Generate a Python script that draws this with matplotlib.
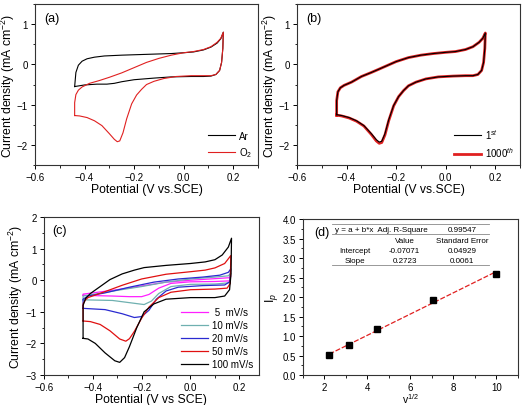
import numpy as np
import matplotlib
matplotlib.use('Agg')
import matplotlib.pyplot as plt
from matplotlib.ticker import AutoMinorLocator

plt.rcParams['font.family'] = ['Liberation Sans', 'DejaVu Sans']
plt.rcParams['mathtext.fontset'] = 'custom'
plt.rcParams['mathtext.rm'] = 'Liberation Sans'
plt.rcParams['mathtext.it'] = 'Liberation Sans:italic'

# --- dados (a): Ar e O2 a 50 mV/s ---
ar_E = [-0.44, -0.435, -0.425, -0.41, -0.39, -0.36, -0.32, -0.25, -0.15, -0.05, 0.0, 0.04, 0.08, 0.11, 0.135, 0.15, 0.16,
        0.158, 0.153, 0.145, 0.13, 0.11, 0.08, 0.03, -0.05, -0.12, -0.2, -0.25, -0.28, -0.31, -0.35, -0.4, -0.44]
ar_j = [-0.55, -0.2, -0.02, 0.08, 0.14, 0.18, 0.21, 0.23, 0.25, 0.27, 0.29, 0.31, 0.36, 0.43, 0.53, 0.64, 0.80,
        0.4, 0.05, -0.15, -0.25, -0.29, -0.3, -0.3, -0.31, -0.34, -0.38, -0.43, -0.47, -0.49, -0.49, -0.51, -0.55]

o2_E = [-0.44, -0.44, -0.435, -0.425, -0.41, -0.38, -0.34, -0.3, -0.25, -0.2, -0.15, -0.1, -0.05, 0.0, 0.04, 0.08,
        0.11, 0.135, 0.15, 0.16,
        0.158, 0.153, 0.145, 0.13, 0.11, 0.08, 0.03, -0.03, -0.08, -0.12, -0.15, -0.17, -0.19, -0.21, -0.23, -0.245,
        -0.258, -0.268, -0.28, -0.3, -0.33, -0.36, -0.39, -0.42, -0.44]
o2_j = [-1.27, -0.95, -0.75, -0.64, -0.56, -0.47, -0.4, -0.32, -0.21, -0.08, 0.05, 0.15, 0.23, 0.29, 0.32, 0.37,
        0.44, 0.55, 0.65, 0.80,
        0.4, 0.05, -0.15, -0.25, -0.28, -0.28, -0.28, -0.3, -0.35, -0.42, -0.5, -0.62, -0.76, -0.98, -1.35, -1.7,
        -1.9, -1.92, -1.86, -1.72, -1.52, -1.4, -1.32, -1.28, -1.27]

# --- dados (b): 1o e 1000o ciclo ---
c1_E = [-0.44, -0.44, -0.435, -0.425, -0.41, -0.38, -0.34, -0.3, -0.27, -0.2, -0.15, -0.1, -0.05, 0.0, 0.04, 0.08,
        0.11, 0.135, 0.15, 0.16,
        0.158, 0.153, 0.145, 0.13, 0.11, 0.08, 0.03, -0.03, -0.08, -0.12, -0.15, -0.17, -0.19, -0.21, -0.23, -0.245,
        -0.258, -0.268, -0.28, -0.3, -0.33, -0.36, -0.39, -0.42, -0.44]
c1_j = [-1.25, -0.9, -0.68, -0.58, -0.52, -0.44, -0.30, -0.2, -0.12, 0.07, 0.17, 0.23, 0.27, 0.3, 0.32, 0.37,
        0.44, 0.55, 0.65, 0.78,
        0.4, 0.05, -0.15, -0.25, -0.28, -0.28, -0.29, -0.31, -0.36, -0.44, -0.53, -0.65, -0.8, -1.02, -1.38, -1.72,
        -1.91, -1.93, -1.87, -1.72, -1.52, -1.4, -1.32, -1.27, -1.25]
c1000_j = [-1.26, -0.9, -0.68, -0.58, -0.52, -0.44, -0.30, -0.2, -0.12, 0.07, 0.17, 0.23, 0.27, 0.3, 0.32, 0.37,
           0.44, 0.55, 0.65, 0.78,
           0.4, 0.05, -0.15, -0.25, -0.28, -0.28, -0.29, -0.31, -0.36, -0.44, -0.53, -0.65, -0.8, -1.03, -1.4, -1.75,
           -1.94, -1.96, -1.9, -1.74, -1.53, -1.41, -1.33, -1.28, -1.26]

# --- dados (c): velocidades de varredura ---
v5_E = [-0.44, -0.44, -0.4, -0.3, -0.2, -0.1, 0.0, 0.1, 0.16, 0.165,
        0.16, 0.1, 0.0, -0.08, -0.13, -0.17, -0.2, -0.25, -0.32, -0.44]
v5_j = [-0.48, -0.44, -0.4, -0.3, -0.18, -0.06, 0.0, 0.05, 0.08, 0.14,
        -0.02, -0.04, -0.05, -0.1, -0.25, -0.45, -0.52, -0.52, -0.5, -0.48]

v10_E = [-0.44, -0.44, -0.4, -0.3, -0.2, -0.1, 0.0, 0.1, 0.155, 0.165,
         0.16, 0.1, 0.0, -0.08, -0.13, -0.16, -0.19, -0.24, -0.32, -0.44]
v10_j = [-0.62, -0.5, -0.45, -0.32, -0.2, -0.06, 0.04, 0.1, 0.14, 0.22,
         -0.08, -0.12, -0.13, -0.2, -0.42, -0.66, -0.77, -0.72, -0.64, -0.62]

v20_E = [-0.44, -0.44, -0.42, -0.35, -0.25, -0.15, -0.05, 0.05, 0.12, 0.155, 0.165,
         0.16, 0.14, 0.05, -0.05, -0.1, -0.14, -0.17, -0.2, -0.23, -0.28, -0.35, -0.44]
v20_j = [-0.89, -0.6, -0.5, -0.4, -0.22, -0.06, 0.04, 0.1, 0.16, 0.25, 0.36,
         -0.05, -0.15, -0.17, -0.22, -0.34, -0.6, -0.95, -1.15, -1.18, -1.06, -0.93, -0.89]

v50_E = [-0.44, -0.44, -0.43, -0.42, -0.35, -0.28, -0.2, -0.1, 0.0, 0.06, 0.1, 0.14, 0.165,
         0.163, 0.15, 0.1, 0.0, -0.08, -0.13, -0.17, -0.2, -0.23, -0.25, -0.265, -0.29, -0.33, -0.37, -0.41, -0.44]
v50_j = [-1.29, -0.75, -0.62, -0.55, -0.36, -0.16, 0.04, 0.19, 0.27, 0.32, 0.39, 0.53, 0.78,
         -0.1, -0.25, -0.28, -0.3, -0.38, -0.55, -0.85, -1.2, -1.62, -1.85, -1.93, -1.86, -1.6, -1.4, -1.31, -1.29]

v100_E = [-0.44, -0.44, -0.43, -0.41, -0.37, -0.33, -0.28, -0.23, -0.19, -0.1, 0.0, 0.06, 0.1, 0.13, 0.155, 0.168,
          0.166, 0.16, 0.14, 0.1, 0.0, -0.1, -0.15, -0.19, -0.22, -0.25, -0.27, -0.29, -0.31, -0.35, -0.39, -0.42,
          -0.44]
v100_j = [-1.84, -0.8, -0.58, -0.42, -0.2, 0.02, 0.2, 0.32, 0.4, 0.47, 0.53, 0.58, 0.65, 0.8, 1.05, 1.33,
          0.2, -0.3, -0.5, -0.55, -0.55, -0.6, -0.75, -1.0, -1.5, -2.1, -2.45, -2.6, -2.55, -2.3, -2.0, -1.86,
          -1.84]

# --- dados (d): corrente de pico vs raiz da velocidade ---
raiz_v = [2.236, 3.162, 4.472, 7.071, 10.0]
ip = [0.52, 0.78, 1.19, 1.92, 2.60]
intercepto = -0.07071
inclinacao = 0.2723

fig = plt.figure(figsize=(5.24, 4.06), dpi=100)


def estilo_eixo(ax, xlim, ylim):
    ax.set_xlim(*xlim)
    ax.set_ylim(*ylim)
    ax.tick_params(direction='out', labelsize=7, length=3, width=0.7, pad=2)
    ax.tick_params(which='minor', direction='out', length=1.8, width=0.6)
    ax.xaxis.set_minor_locator(AutoMinorLocator(2))
    ax.yaxis.set_minor_locator(AutoMinorLocator(2))
    for s in ax.spines.values():
        s.set_linewidth(0.8)
        s.set_color('#333333')


rotulo_y = 'Current density (mA cm$^{-2}$)'
fs_rot = 8.8

# (a)
ax = fig.add_axes([0.0668, 0.591, 0.4256, 0.3966])
ax.plot(ar_E, ar_j, color='black', lw=0.8, label='Ar')
ax.plot(o2_E, o2_j, color='#e02020', lw=0.8, label='O$_2$')
estilo_eixo(ax, (-0.6, 0.3), (-2.5, 1.5))
ax.set_xticks([-0.6, -0.4, -0.2, 0.0, 0.2])
ax.set_yticks([-2, -1, 0, 1])
ax.set_xlabel('Potential (V vs.SCE)', fontsize=fs_rot, labelpad=1)
ax.set_ylabel(rotulo_y, fontsize=fs_rot, labelpad=0)
ax.text(0.04, 0.95, '(a)', transform=ax.transAxes, fontsize=9, va='top')
ax.legend(loc='lower right', frameon=False, fontsize=7, handlelength=2.8,
          borderaxespad=0.2, labelspacing=0.5, handletextpad=0.4)

# (b)
ax = fig.add_axes([0.5668, 0.591, 0.4256, 0.3966])
ax.plot(c1_E, c1000_j, color='#e02020', lw=2.0, label='1000$^{th}$')
ax.plot(c1_E, c1_j, color='black', lw=0.8, label='1$^{st}$')
estilo_eixo(ax, (-0.6, 0.3), (-2.5, 1.5))
ax.set_xticks([-0.6, -0.4, -0.2, 0.0, 0.2])
ax.set_yticks([-2, -1, 0, 1])
ax.set_xlabel('Potential (V vs.SCE)', fontsize=fs_rot, labelpad=1)
ax.set_ylabel(rotulo_y, fontsize=fs_rot, labelpad=0)
ax.text(0.04, 0.95, '(b)', transform=ax.transAxes, fontsize=9, va='top')
h, l = ax.get_legend_handles_labels()
ax.legend(h[::-1], l[::-1], loc='lower right', frameon=False, fontsize=7, handlelength=2.8,
          borderaxespad=0.2, labelspacing=0.5, handletextpad=0.4)

# (c)
ax = fig.add_axes([0.084, 0.0739, 0.410, 0.389])
curvas = [(v5_E, v5_j, '#ff20ff', ' 5  mV/s'),
          (v10_E, v10_j, '#6fb0b0', '10 mV/s'),
          (v20_E, v20_j, '#2a2ad0', '20 mV/s'),
          (v50_E, v50_j, '#e01010', '50 mV/s'),
          (v100_E, v100_j, 'black', '100 mV/s')]
for E, j, cor, nome in curvas:
    ax.plot(E, j, color=cor, lw=0.9, label=nome)
estilo_eixo(ax, (-0.6, 0.28), (-3, 2))
ax.set_xticks([-0.6, -0.4, -0.2, 0.0, 0.2])
ax.set_yticks([-3, -2, -1, 0, 1, 2])
ax.set_xlabel('Potential (V vs SCE)', fontsize=fs_rot, labelpad=1)
ax.set_ylabel(rotulo_y, fontsize=fs_rot, labelpad=1)
ax.text(0.04, 0.92, '(c)', transform=ax.transAxes, fontsize=9, va='center')
ax.legend(loc='lower right', frameon=False, fontsize=7, handlelength=2.8,
          borderaxespad=0.2, labelspacing=0.3, handletextpad=0.4)

# (d)
ax = fig.add_axes([0.578, 0.0739, 0.410, 0.384])
x_fit = np.array([raiz_v[0], raiz_v[-1]])
ax.plot(x_fit, intercepto + inclinacao * x_fit, color='#e02020', lw=0.9, ls=(0, (4, 1.5)))
ax.plot(raiz_v, ip, 's', color='black', ms=5)
estilo_eixo(ax, (1, 11), (0, 4))
ax.set_xticks([2, 4, 6, 8, 10])
ax.set_yticks(np.arange(0, 4.01, 0.5))
ax.yaxis.set_major_formatter(plt.FormatStrFormatter('%.1f'))
ax.set_xlabel('v$^{1/2}$', fontsize=7.5)
ax.xaxis.set_label_coords(0.5, -0.105)
ax.set_ylabel('I$_p$', fontsize=9, labelpad=2)
ax.text(0.055, 0.92, '(d)', transform=ax.transAxes, fontsize=9, va='center')

# tabela do ajuste linear
tab_fs = 5.8
for yl in (0.968, 0.904, 0.705):
    ax.plot([0.135, 0.865], [yl, yl], transform=ax.transAxes, color='#888888', lw=0.6, clip_on=False)
ax.text(0.149, 0.936, 'y = a + b*x  Adj. R-Square', transform=ax.transAxes, fontsize=tab_fs, va='center')
ax.text(0.74, 0.936, '0.99547', transform=ax.transAxes, fontsize=tab_fs, va='center', ha='center')
ax.text(0.474, 0.865, 'Value', transform=ax.transAxes, fontsize=tab_fs, va='center', ha='center')
ax.text(0.74, 0.865, 'Standard Error', transform=ax.transAxes, fontsize=tab_fs, va='center', ha='center')
ax.text(0.242, 0.801, 'Intercept', transform=ax.transAxes, fontsize=tab_fs, va='center', ha='center')
ax.text(0.474, 0.801, '-0.07071', transform=ax.transAxes, fontsize=tab_fs, va='center', ha='center')
ax.text(0.74, 0.801, '0.04929', transform=ax.transAxes, fontsize=tab_fs, va='center', ha='center')
ax.text(0.242, 0.735, 'Slope', transform=ax.transAxes, fontsize=tab_fs, va='center', ha='center')
ax.text(0.474, 0.735, '0.2723', transform=ax.transAxes, fontsize=tab_fs, va='center', ha='center')
ax.text(0.74, 0.735, '0.0061', transform=ax.transAxes, fontsize=tab_fs, va='center', ha='center')

fig.savefig('out.png', dpi=100)
